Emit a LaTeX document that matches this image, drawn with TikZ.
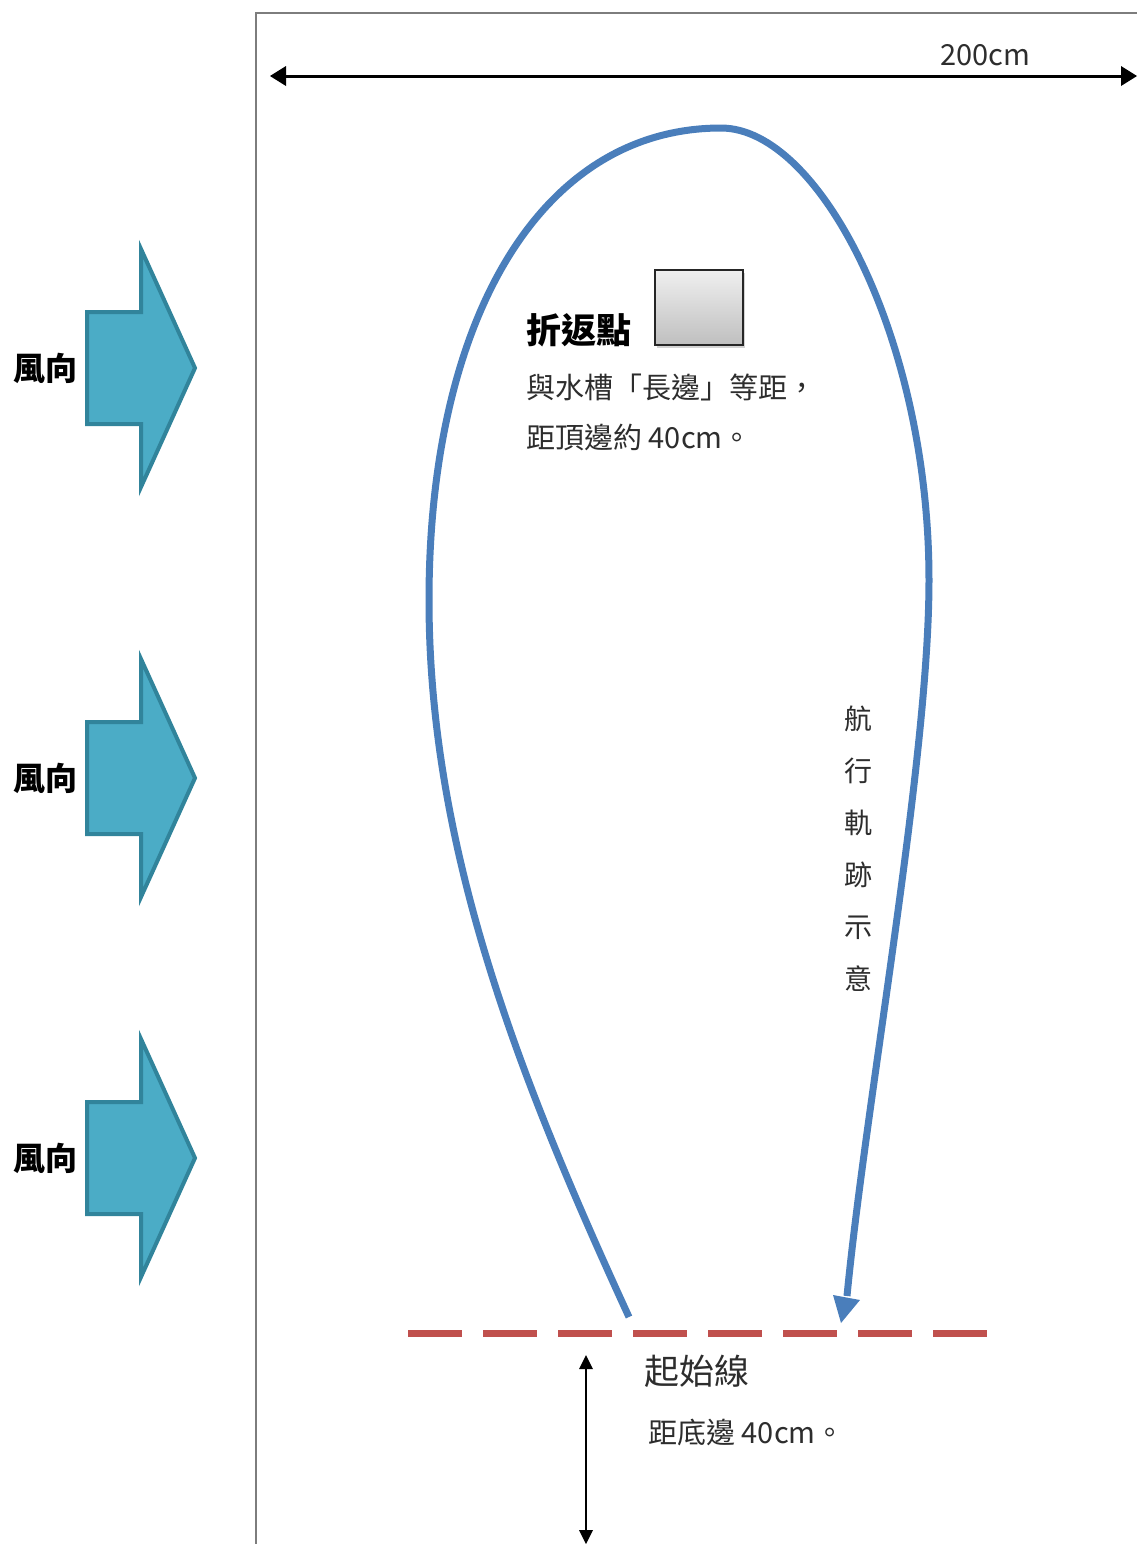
\documentclass[tikz,border=0pt]{standalone}
\usepackage{fontspec}
\newfontfamily\cjk{Noto Sans CJK TC}
\usetikzlibrary{shadows}
\definecolor{windfill}{RGB}{75,172,198}
\definecolor{windline}{RGB}{49,132,155}
\definecolor{trackblue}{RGB}{74,126,187}
\definecolor{startred}{RGB}{192,80,77}
\definecolor{framegray}{RGB}{125,125,125}
\definecolor{textgray}{RGB}{45,45,45}

\begin{document}
\begin{tikzpicture}[x=0.5pt,y=-0.5pt]
    \tikzstyle{every node}+=[inner sep=0pt, font=\cjk]
    \tikzstyle{plaintext}=[textgray, font=\cjk\fontsize{14.5}{18}\selectfont]
    \tikzstyle{boldtext}=[black, font=\cjk\bfseries\fontsize{17.5}{20}\selectfont]
    \useasboundingbox (0,0) rectangle (1137,1544);
    % tank outline
    \draw [framegray, line width=1pt] (256,1544) -- (256,13) -- (1137,13);
    % width of tank
    \coordinate (wl) at (270,76);
    \coordinate (wr) at (1137,76);
    \draw [black, line width=1.5pt] (284,76) -- (1123,76);
    \fill [black] (wl) -- ++(16,-10) -- ++(0,20) -- cycle;
    \fill [black] (wr) -- ++(-16,-10) -- ++(0,20) -- cycle;
    \node (width) [plaintext] at (985,55) {200cm};
    % wind arrows
    \foreach \y/\n in {368/a, 778/b, 1158/c} {
        \filldraw [fill=windfill, draw=windline, line width=2pt, line join=miter]
            (87,\y-56) -- (141,\y-56) -- (141,\y-119) -- (195,\y)
            -- (141,\y+119) -- (141,\y+56) -- (87,\y+56) -- cycle;
        \node (wind\n) [black, font=\cjk\bfseries\fontsize{16}{20}\selectfont] at (45,\y) {風向};
    }
    % sailing track
    \coordinate (t0) at (629,1317);
    \coordinate (t1) at (429,600);
    \coordinate (t2) at (721,128);
    \coordinate (t3) at (929,580);
    \coordinate (t4) at (847,1296);
    \draw [trackblue, line width=3.5pt, line cap=butt]
        (t0) .. controls (520,1080) and (429,850) .. (t1)
             .. controls (429,320) and (540,128) .. (t2)
             .. controls (820,128) and (929,340) .. (t3)
             .. controls (929,760) and (866,1100) .. (t4);
    \fill [trackblue] (841,1323) -- (833,1295) -- (860,1300) -- cycle;
    \node (track) [textgray, align=center, font=\cjk\fontsize{14}{26}\selectfont] at (858,849)
        {航\\行\\軌\\跡\\示\\意};
    % turning point
    \node (turnbox) [draw=black!85, line width=1pt, top color=gray!12, bottom color=gray!50,
        minimum width=44pt, minimum height=37.5pt,
        drop shadow={opacity=0.35, shadow xshift=1pt, shadow yshift=-1.5pt}] at (699,307) {};
    \node (turn) [boldtext, anchor=west] at (526,330) {折返點};
    \node (turnnote1) [plaintext, anchor=west] at (526,387) {與水槽「長邊」等距，};
    \node (turnnote2) [plaintext, anchor=west] at (526,437) {距頂邊約 40cm。};
    % start line
    \draw [startred, line width=3.5pt, dash pattern=on 27pt off 10.5pt] (408,1333) -- (992,1333);
    \coordinate (st) at (586,1355);
    \coordinate (sb) at (586,1544);
    \draw [black, line width=1pt] (586,1368) -- (586,1531);
    \fill [black] (st) -- ++(-7,14) -- ++(14,0) -- cycle;
    \fill [black] (sb) -- ++(-7,-14) -- ++(14,0) -- cycle;
    \node (start) [plaintext, font=\cjk\fontsize{17.5}{20}\selectfont, anchor=west] at (644,1371) {起始線};
    \node (startnote) [plaintext, anchor=west] at (648,1432) {距底邊 40cm。};
\end{tikzpicture}
\end{document}
